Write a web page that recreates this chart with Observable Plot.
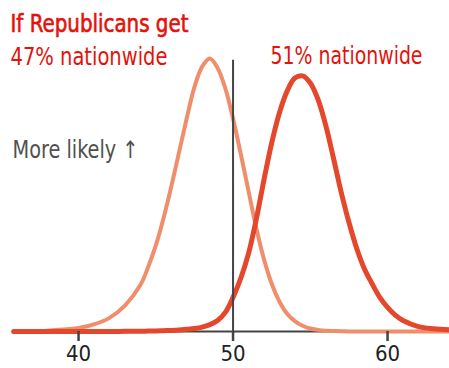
<!DOCTYPE html>
<html>
<head>
<meta charset="utf-8">
<script src="https://cdn.jsdelivr.net/npm/d3@7"></script>
<script src="https://cdn.jsdelivr.net/npm/@observablehq/plot@0.6"></script>
<style>
  html, body { margin: 0; padding: 0; background: #fff; }
  #chart svg { display: block; }
</style>
</head>
<body>
<div id="chart"></div>
<script>
// Vote share (%) grid
const xs = [35.8, 37, 38, 39, 40, 41, 42, 43, 44, 44.5, 45, 45.5, 46, 46.5, 47, 47.5, 48, 48.5, 49, 49.5,
  50, 50.5, 51, 51.5, 52, 52.5, 53, 53.5, 54, 54.5, 55, 55.5, 56, 56.5, 57, 57.5, 58, 58.5, 59, 59.5,
  60, 60.5, 61, 62, 63, 64];
// Relative likelihood if Republicans get 47% nationwide
const likely47 = [0, 0.1, 0.3, 0.7, 1.3, 2.6, 5, 9.5, 17, 23.5, 31.5, 41.5, 53, 65.5, 78, 89.5, 97, 100, 96.5, 89,
  78, 65, 51.5, 38, 26.5, 17.5, 11, 6.5, 3.8, 2.1, 1.1, 0.6, 0.3, 0.2, 0.1, 0, 0, 0, 0, 0,
  0, 0, 0, 0, 0, 0];
// Relative likelihood if Republicans get 51% nationwide
const likely51 = [0, 0, 0, 0, 0, 0, 0, 0.05, 0.1, 0.15, 0.2, 0.3, 0.4, 0.55, 0.8, 1.1, 1.6, 2.5, 4, 7,
  12.5, 19.5, 28.5, 41, 55.5, 69, 80, 88, 92.8, 93.6, 91, 85, 75.5, 63.5, 51, 40, 30.5, 23, 17.5, 12.5,
  8.8, 6, 4, 1.8, 1, 0.6];
const xTicks = [40, 50, 60];
const threshold = [50];
const labels = ["If Republicans get", "47% nationwide", "51% nationwide", "More likely \u2191"];

const red = "#e3120b";
const font = "'Liberation Sans Narrow', 'DejaVu Sans Condensed', 'Noto Sans', sans-serif";

const chart = Plot.plot({
  width: 449,
  height: 368,
  marginLeft: 13,
  marginRight: 0,
  marginTop: 0,
  marginBottom: 37,
  style: { fontFamily: font, background: "#fff", overflow: "visible" },
  x: { domain: [35.79, 64.01], axis: null },
  y: { domain: [0, 121.2], axis: null },
  marks: [
    Plot.ruleY([0], { stroke: "#444", strokeWidth: 2 }),
    Plot.line(xs, { x: d => d, y: likely47, stroke: "#f08e6b", strokeWidth: 4, curve: "catmull-rom" }),
    Plot.line(xs, { x: d => d, y: likely51, stroke: "#e4472b", strokeWidth: 5, curve: "catmull-rom" }),
    Plot.ruleX(threshold, { y1: 0, y2: 99.3, stroke: "#444", strokeWidth: 2 }),
    Plot.axisX(xTicks, {
      tickSize: 10, tickPadding: 4, stroke: "#444", strokeWidth: 2.5,
      fill: "#222", fontSize: 22, tickFormat: d => String(d)
    }),
    Plot.text([labels[0]], { text: d => d, frameAnchor: "top-left", textAnchor: "start", lineAnchor: "bottom",
      dx: -3, dy: 31, fontSize: 24, fill: red, stroke: red, strokeWidth: 0.6 }),
    Plot.text([labels[1]], { text: d => d, frameAnchor: "top-left", textAnchor: "start", lineAnchor: "bottom",
      dx: -3, dy: 64, fontSize: 24, fill: red }),
    Plot.text([labels[2]], { text: d => d, frameAnchor: "top-left", textAnchor: "start", lineAnchor: "bottom",
      dx: 257, dy: 63, fontSize: 24, fill: red }),
    Plot.text([labels[3]], { text: d => d, frameAnchor: "top-left", textAnchor: "start", lineAnchor: "bottom",
      dx: -1, dy: 157, fontSize: 24, fill: "#505050" })
  ]
});
// fit label widths to the reference's narrow typeface
const widths = new Map([[labels[0], 178], [labels[1], 157], [labels[2], 152], [labels[3], 126]]);
d3.select(chart).selectAll("text").each(function () {
  const w = widths.get(this.textContent);
  if (w) {
    this.setAttribute("textLength", w);
    this.setAttribute("lengthAdjust", "spacingAndGlyphs");
  }
});
document.getElementById("chart").appendChild(chart);
</script>
</body>
</html>
